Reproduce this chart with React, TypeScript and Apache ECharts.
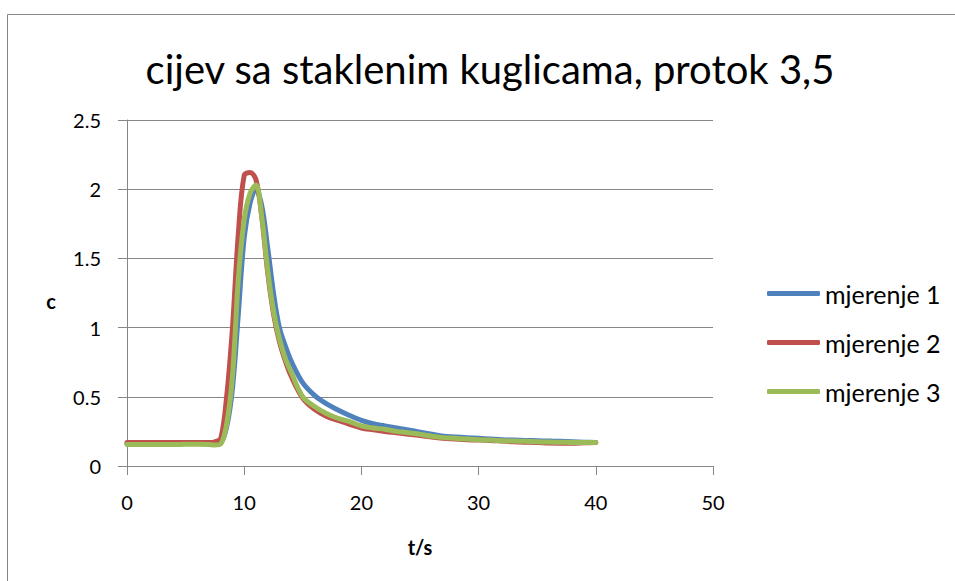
import React, { useEffect, useRef } from "react";
import * as echarts from "echarts";

const titleText = "cijev sa staklenim kuglicama, protok 3,5";
const seriesNames = ["mjerenje 1", "mjerenje 2", "mjerenje 3"];
const seriesColors = ["#4F81BD", "#C0504D", "#9BBB59"];

const times = [
  0, 1, 2, 3, 4, 5, 6, 7, 7.5, 8, 8.5, 9, 9.5, 10, 10.5, 11, 11.5, 12, 12.5, 13, 13.5, 14,
  15, 16, 17, 18, 19, 20, 21, 22, 23, 24, 25, 26, 27, 28, 29, 30, 31, 32, 33, 34, 35, 36,
  37, 38, 39, 40,
];

const mjerenje1 = [
  0.16, 0.16, 0.16, 0.16, 0.162, 0.165, 0.165, 0.162, 0.16, 0.17, 0.28, 0.56, 1.1, 1.65, 1.9, 2.0,
  1.88, 1.58, 1.25, 1.0, 0.87, 0.76, 0.6, 0.51, 0.45, 0.405, 0.365, 0.33, 0.305, 0.29, 0.275,
  0.26, 0.245, 0.23, 0.215, 0.21, 0.205, 0.2, 0.195, 0.19, 0.187, 0.185, 0.182, 0.18, 0.178,
  0.175, 0.172, 0.17,
];

const mjerenje2 = [
  0.17, 0.17, 0.17, 0.17, 0.17, 0.17, 0.17, 0.17, 0.175, 0.2, 0.5, 1.0, 1.68, 2.1, 2.12, 2.07,
  1.8, 1.4, 1.1, 0.9, 0.76, 0.65, 0.49, 0.41, 0.36, 0.33, 0.3, 0.275, 0.262, 0.25, 0.24, 0.23,
  0.22, 0.21, 0.2, 0.195, 0.19, 0.188, 0.185, 0.18, 0.175, 0.172, 0.17, 0.166, 0.165, 0.165,
  0.168, 0.17,
];

const mjerenje3 = [
  0.155, 0.155, 0.155, 0.155, 0.155, 0.157, 0.157, 0.155, 0.152, 0.16, 0.3, 0.65, 1.35, 1.78,
  1.97, 2.03, 1.8, 1.42, 1.12, 0.92, 0.78, 0.68, 0.5, 0.43, 0.38, 0.345, 0.32, 0.29, 0.275,
  0.265, 0.25, 0.24, 0.23, 0.215, 0.205, 0.2, 0.195, 0.19, 0.187, 0.183, 0.18, 0.178, 0.175,
  0.173, 0.172, 0.17, 0.17, 0.17,
];

const xTicks = { min: 0, max: 50, interval: 10 };
const yTicks = { min: 0, max: 2.5, interval: 0.5 };

const FONT = "Lato";

export default function App() {
  const ref = useRef<HTMLDivElement>(null);

  useEffect(() => {
    document.body.style.margin = "0";
    if (!ref.current) return;
    const chart = echarts.init(ref.current, undefined, { renderer: "svg" });
    const allData = [mjerenje1, mjerenje2, mjerenje3];
    const series = allData.map((vals, i) => ({
      name: seriesNames[i],
      type: "line",
      data: times.map((t, k) => [t, vals[k]]),
      smooth: 0.35,
      showSymbol: false,
      symbol: "none",
      lineStyle: { color: seriesColors[i], width: 5, cap: "round", join: "round" },
      itemStyle: { color: seriesColors[i] },
      z: 2 + i,
    }));

    chart.setOption({
      animation: false,
      backgroundColor: "#ffffff",
      textStyle: { fontFamily: FONT },
      title: {
        text: titleText,
        left: 485,
        top: 44,
        textAlign: "center",
        textStyle: { fontFamily: FONT, fontSize: 40, fontWeight: "normal", color: "#000" },
      },
      grid: { left: 127, top: 120, width: 586, height: 346, containLabel: false },
      xAxis: {
        type: "value",
        min: xTicks.min,
        max: xTicks.max,
        interval: xTicks.interval,
        axisLine: { show: true, onZero: false, lineStyle: { color: "#868686", width: 1 } },
        axisTick: { show: true, length: 9, lineStyle: { color: "#868686" } },
        splitLine: { show: false },
        axisLabel: { margin: 26, fontSize: 20, color: "#000", fontFamily: FONT },
      },
      yAxis: {
        type: "value",
        min: yTicks.min,
        max: yTicks.max,
        interval: yTicks.interval,
        axisLine: { show: true, lineStyle: { color: "#868686", width: 1 } },
        axisTick: { show: true, length: 9, lineStyle: { color: "#868686" } },
        splitLine: { show: true, lineStyle: { color: "#868686", width: 1 } },
        axisLabel: { margin: 26, fontSize: 20, color: "#000", fontFamily: FONT },
      },
      legend: {
        orient: "vertical",
        left: 767,
        top: 281,
        padding: 0,
        itemWidth: 53,
        itemHeight: 5,
        itemGap: 24,
        icon: "roundRect",
        data: seriesNames.map((n, i) => ({ name: n, itemStyle: { color: seriesColors[i] } })),
        textStyle: { fontSize: 25, color: "#000", fontFamily: FONT, padding: [0, 0, 0, 0] },
      },
      graphic: [
        {
          type: "rect",
          shape: { x: 7.5, y: 14.5, width: 1200, height: 1200 },
          style: { fill: "none", stroke: "#868686", lineWidth: 1 },
          silent: true,
        },
        {
          type: "text",
          x: 420,
          y: 547,
          style: {
            text: "t/s",
            fontFamily: FONT,
            fontSize: 20,
            fontWeight: "bold",
            fill: "#000",
            align: "center",
            verticalAlign: "middle",
          },
        },
        {
          type: "text",
          x: 51,
          y: 301,
          style: {
            text: "c",
            fontFamily: FONT,
            fontSize: 20,
            fontWeight: "bold",
            fill: "#000",
            align: "center",
            verticalAlign: "middle",
          },
        },
      ],
      series,
    });

    return () => chart.dispose();
  }, []);

  return <div ref={ref} style={{ width: 955, height: 581 }} />;
}
